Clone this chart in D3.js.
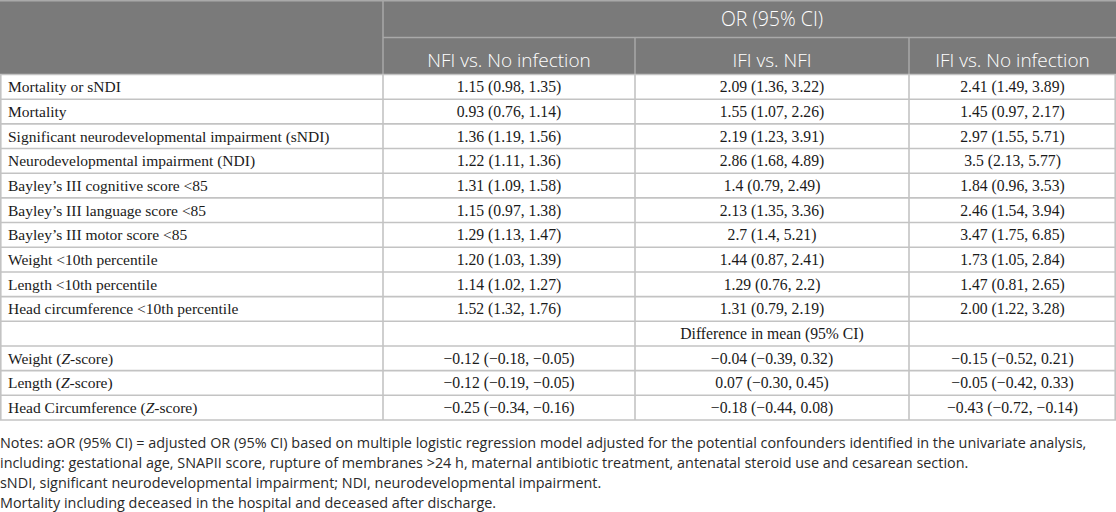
<!DOCTYPE html>
<html><head><meta charset="utf-8">
<script src="https://cdn.jsdelivr.net/npm/d3@7/dist/d3.min.js"></script>
<style>body{margin:0;background:#fff;}svg{display:block;}</style>
</head><body>
<script>
const groupHeader = "OR (95% CI)";
const columns = ["NFI vs. No infection", "IFI vs. NFI", "IFI vs. No infection"];
const rowLabels = [
  "Mortality or sNDI", "Mortality", "Significant neurodevelopmental impairment (sNDI)",
  "Neurodevelopmental impairment (NDI)", "Bayley\u2019s III cognitive score <85",
  "Bayley\u2019s III language score <85", "Bayley\u2019s III motor score <85",
  "Weight <10th percentile", "Length <10th percentile", "Head circumference <10th percentile",
  "", "Weight (|Z|-score)", "Length (|Z|-score)", "Head Circumference (|Z|-score)"
];
const nfiVsNo = ["1.15 (0.98, 1.35)", "0.93 (0.76, 1.14)", "1.36 (1.19, 1.56)", "1.22 (1.11, 1.36)",
  "1.31 (1.09, 1.58)", "1.15 (0.97, 1.38)", "1.29 (1.13, 1.47)", "1.20 (1.03, 1.39)",
  "1.14 (1.02, 1.27)", "1.52 (1.32, 1.76)", "",
  "\u22120.12 (\u22120.18, \u22120.05)", "\u22120.12 (\u22120.19, \u22120.05)", "\u22120.25 (\u22120.34, \u22120.16)"];
const ifiVsNfi = ["2.09 (1.36, 3.22)", "1.55 (1.07, 2.26)", "2.19 (1.23, 3.91)", "2.86 (1.68, 4.89)",
  "1.4 (0.79, 2.49)", "2.13 (1.35, 3.36)", "2.7 (1.4, 5.21)", "1.44 (0.87, 2.41)",
  "1.29 (0.76, 2.2)", "1.31 (0.79, 2.19)", "Difference in mean (95% CI)",
  "\u22120.04 (\u22120.39, 0.32)", "0.07 (\u22120.30, 0.45)", "\u22120.18 (\u22120.44, 0.08)"];
const ifiVsNo = ["2.41 (1.49, 3.89)", "1.45 (0.97, 2.17)", "2.97 (1.55, 5.71)", "3.5 (2.13, 5.77)",
  "1.84 (0.96, 3.53)", "2.46 (1.54, 3.94)", "3.47 (1.75, 6.85)", "1.73 (1.05, 2.84)",
  "1.47 (0.81, 2.65)", "2.00 (1.22, 3.28)", "",
  "\u22120.15 (\u22120.52, 0.21)", "\u22120.05 (\u22120.42, 0.33)", "\u22120.43 (\u22120.72, \u22120.14)"];
const notes = [
  "Notes: aOR (95% CI) = adjusted OR (95% CI) based on multiple logistic regression model adjusted for the potential confounders identified in the univariate analysis,",
  "including: gestational age, SNAPII score, rupture of membranes >24 h, maternal antibiotic treatment, antenatal steroid use and cesarean section.",
  "sNDI, significant neurodevelopmental impairment; NDI, neurodevelopmental impairment.",
  "Mortality including deceased in the hospital and deceased after discharge."
];

const W = 1116, H = 512;
const colEdges = [0, 383, 635, 909, 1116];
const headTop = 0, headMid = 37.5, headBottom = 74.5, bodyBottom = 420;
const serif = "'Liberation Serif','Times New Roman',serif";
const sans = "'Open Sans','Noto Sans',sans-serif";

const svg = d3.select("body").append("svg").attr("width", W).attr("height", H);

const y = d3.scaleBand().domain(d3.range(rowLabels.length)).range([headBottom, bodyBottom]);
const colMid = i => (colEdges[i] + colEdges[i + 1]) / 2;

// header background
svg.append("rect").attr("x", 0).attr("y", headTop).attr("width", W).attr("height", headBottom - headTop).attr("fill", "#7a7a7a");

// header lines
const hl = "#a9a9a9";
svg.append("line").attr("x1", 0).attr("x2", W).attr("y1", 0.75).attr("y2", 0.75).attr("stroke", hl).attr("stroke-width", 1.5);
svg.append("line").attr("x1", colEdges[1]).attr("x2", W).attr("y1", headMid).attr("y2", headMid).attr("stroke", hl).attr("stroke-width", 1.5);
svg.append("line").attr("x1", colEdges[1]).attr("x2", colEdges[1]).attr("y1", 0).attr("y2", headBottom).attr("stroke", hl).attr("stroke-width", 1.5);
[2, 3].forEach(i => svg.append("line").attr("x1", colEdges[i]).attr("x2", colEdges[i]).attr("y1", headMid).attr("y2", headBottom).attr("stroke", hl).attr("stroke-width", 1.5));

svg.append("text").attr("x", colMid(2)).attr("y", 19.5).attr("dy", "0.35em")
  .attr("text-anchor", "middle").attr("fill", "#fff").attr("font-family", sans).attr("font-size", 19.5)
  .attr("font-weight", 300).text(groupHeader);
svg.selectAll("text.colh").data(columns).join("text").attr("class", "colh")
  .attr("x", (d, i) => colMid(i + 1)).attr("y", 60.5).attr("dy", "0.35em")
  .attr("text-anchor", "middle").attr("fill", "#fff").attr("font-family", sans).attr("font-size", 19)
  .attr("font-weight", 300).text(d => d);

// body grid
const gl = "#c3c3c3";
const body = svg.append("g");
body.selectAll("line.h").data(d3.range(rowLabels.length + 1)).join("line").attr("class", "h")
  .attr("x1", 0).attr("x2", W)
  .attr("y1", i => i < rowLabels.length ? y(i) : bodyBottom).attr("y2", i => i < rowLabels.length ? y(i) : bodyBottom)
  .attr("stroke", gl).attr("stroke-width", 1.6);
body.selectAll("line.v").data(colEdges).join("line").attr("class", "v")
  .attr("x1", (d, i) => i === 0 ? 0.8 : (i === colEdges.length - 1 ? W - 0.8 : d))
  .attr("x2", (d, i) => i === 0 ? 0.8 : (i === colEdges.length - 1 ? W - 0.8 : d))
  .attr("y1", headBottom).attr("y2", bodyBottom).attr("stroke", gl).attr("stroke-width", 1.6);

// row labels (with italic Z)
const labels = body.selectAll("text.lab").data(rowLabels).join("text").attr("class", "lab")
  .attr("x", 8).attr("y", (d, i) => y(i) + y.bandwidth() / 2).attr("dy", "0.35em")
  .attr("font-family", serif).attr("font-size", 15.5).attr("fill", "#1a1a1a");
labels.each(function (d) {
  const parts = d.split("|");
  const t = d3.select(this);
  parts.forEach((p, k) => t.append("tspan").attr("font-style", k === 1 ? "italic" : null).text(p));
});

const valueCols = [nfiVsNo, ifiVsNfi, ifiVsNo];
valueCols.forEach((arr, c) => {
  body.selectAll("text.v" + c).data(arr).join("text").attr("class", "v" + c)
    .attr("x", colMid(c + 1)).attr("y", (d, i) => y(i) + y.bandwidth() / 2).attr("dy", "0.35em")
    .attr("text-anchor", "middle").attr("font-family", serif).attr("font-size", 15.7).attr("fill", "#1a1a1a")
    .text(d => d);
});

// notes
svg.selectAll("text.note").data(notes).join("text").attr("class", "note")
  .attr("x", 0).attr("y", (d, i) => 443 + i * 20).attr("dy", "0.35em")
  .attr("font-family", sans).attr("font-size", 14.4).attr("fill", "#2a2a2a").text(d => d);
</script>
</body></html>
